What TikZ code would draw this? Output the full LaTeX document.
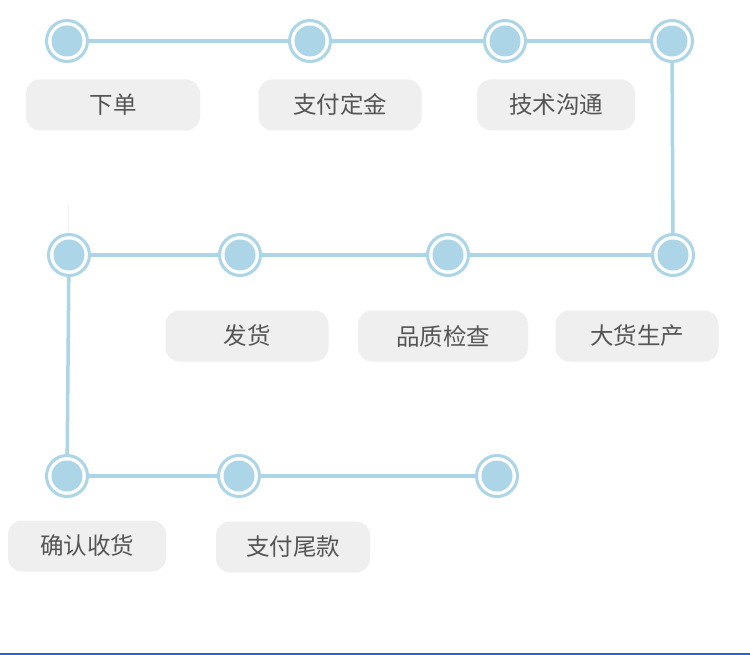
\documentclass[tikz,border=0pt]{standalone}
\usepackage{fontspec}
\newfontfamily\cjk{Noto Sans CJK SC}
\definecolor{dotblue}{RGB}{172,213,232}
\definecolor{labelbg}{RGB}{239,239,239}
\definecolor{labeltxt}{RGB}{85,85,85}
\definecolor{baseblue}{RGB}{25,105,210}
\begin{document}
\begin{tikzpicture}[x=1pt,y=-1pt,
  dot/.style={circle,draw=dotblue,line width=3pt,fill=white,minimum size=41pt,inner sep=0pt,
    path picture={\fill[dotblue] (path picture bounding box.center) circle (15.5pt);}},
  conn/.style={draw=dotblue,line width=3.5pt},
  lbl/.style={rounded corners=14pt,fill=labelbg,font=\cjk\fontsize{23.5}{26}\selectfont,text=labeltxt,
    minimum height=51pt,inner sep=0pt}]
\useasboundingbox (0,0) rectangle (750,655);
\fill[white] (0,0) rectangle (750,655);
% faint mark
\draw[black!6,line width=1pt] (68,205) -- (68,236);
% dots
\node[dot] (a1) at (67,41) {};
\node[dot] (a2) at (310,41) {};
\node[dot] (a3) at (505,41) {};
\node[dot] (a4) at (672,41) {};
\node[dot] (b1) at (69,255) {};
\node[dot] (b2) at (240,255) {};
\node[dot] (b3) at (448,255) {};
\node[dot] (b4) at (673,255) {};
\node[dot] (c1) at (67,476) {};
\node[dot] (c2) at (239,476) {};
\node[dot] (c3) at (497,476) {};
% connectors
\path[conn] (a1) -- (a2);
\path[conn] (a2) -- (a3);
\path[conn] (a3) -- (a4);
\path[conn] (a4) -- (b4);
\path[conn] (b4) -- (b3);
\path[conn] (b3) -- (b2);
\path[conn] (b2) -- (b1);
\path[conn] (b1) -- (c1);
\path[conn] (c1) -- (c2);
\path[conn] (c2) -- (c3);
% labels
\node[lbl,minimum width=174pt] (l1) at (113,105) {下单};
\node[lbl,minimum width=163pt] (l2) at (340,105) {支付定金};
\node[lbl,minimum width=158pt] (l3) at (556,105) {技术沟通};
\node[lbl,minimum width=163pt] (l4) at (247,336) {发货};
\node[lbl,minimum width=170pt] (l5) at (443,336) {品质检查};
\node[lbl,minimum width=163pt] (l6) at (637,336) {大货生产};
\node[lbl,minimum width=158pt] (l7) at (87,546) {确认收货};
\node[lbl,minimum width=154pt] (l8) at (293,547) {支付尾款};
% base line
\coordinate (bl) at (0,654);
\coordinate (br) at (750,654);
\draw[baseblue,line width=2pt] (bl) -- (br);
\end{tikzpicture}
\end{document}
